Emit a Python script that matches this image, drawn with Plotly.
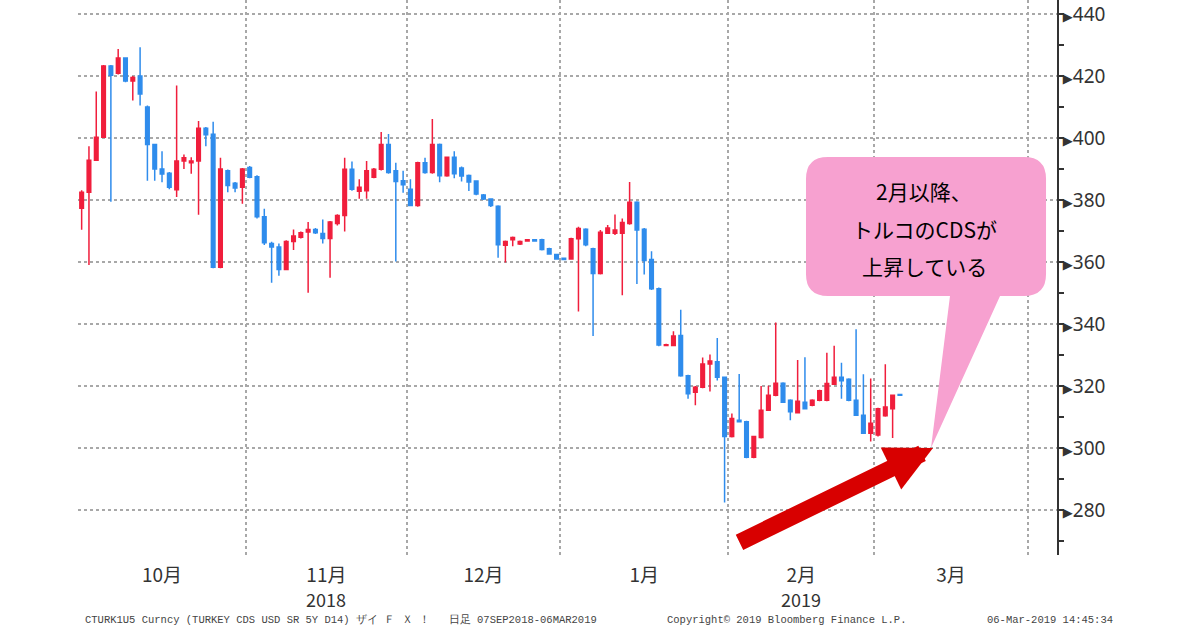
import pandas as pd
import plotly.graph_objects as go

# daily candles, weekdays from 2018-10-01 to 2019-03-06
open_ = [
    377.3, 382.5, 392.8, 400.2, 423.2, 420.9, 425.8, 418.4, 420.0, 410.0,
    397.9, 390.0, 388.6, 383.3, 392.6, 392.0, 392.6, 403.1, 401.2, 358.3,
    389.4, 385.4, 384.1,
    390.5, 387.5, 374.6, 366.0, 364.8, 357.6, 366.6, 368.0, 369.7, 370.5,
    369.2, 367.6, 372.4, 375.0, 389.9, 382.8, 383.0, 387.3, 389.9, 397.9,
    389.4, 386.2,
    383.5, 378.2, 392.0, 388.9, 397.9, 387.8, 393.8, 390.3, 387.9, 386.1,
    381.6, 380.3, 378.0, 365.4, 367.2, 365.8, 366.8, 367.2, 367.2, 364.3,
    362.4,
    361.2, 361.0, 367.5, 370.6, 364.3, 356.3, 369.3, 369.3, 369.3, 372.4,
    379.3, 370.6, 360.8, 351.4, 333.1, 333.1, 336.3, 323.3, 318.0, 319.6,
    327.1, 327.8, 322.8,
    303.7, 309.0, 308.5, 297.0, 303.4, 312.2, 317.0, 320.9, 315.4, 311.4,
    314.8, 313.8, 315.4, 315.4, 320.6, 322.8, 322.2, 315.4, 310.6, 304.8,
    304.2, 310.4, 312.7, 317.3,
]
high = [
    383.1, 397.3, 415.0, 423.5, 423.5, 428.7, 426.0, 420.0, 429.3, 410.5,
    398.0, 395.7, 389.0, 416.9, 394.7, 393.8, 405.5, 403.5, 405.2, 393.6,
    389.8, 385.8, 390.3,
    391.0, 388.0, 377.2, 366.5, 366.0, 367.0, 370.5, 369.8, 372.9, 371.0,
    373.7, 373.2, 375.4, 393.6, 392.4, 386.7, 392.6, 390.3, 401.9, 401.3,
    392.0, 389.4,
    386.7, 392.3, 393.6, 406.1, 398.2, 394.0, 395.7, 390.8, 388.2, 386.4,
    381.9, 380.6, 378.3, 366.9, 368.2, 366.9, 367.3, 367.3, 367.5, 364.6,
    362.7,
    361.3, 367.8, 371.4, 370.9, 364.6, 370.3, 371.9, 375.3, 374.0, 385.8,
    379.6, 371.0, 363.5, 351.8, 333.6, 337.7, 344.6, 323.6, 320.0, 329.2,
    330.2, 335.5, 323.1,
    311.1, 323.9, 308.8, 304.0, 320.0, 320.1, 340.5, 321.2, 315.7, 328.4,
    329.3, 315.7, 318.8, 330.7, 333.0, 327.5, 322.5, 338.3, 323.8, 322.4,
    313.0, 327.0, 317.3, 317.5,
]
low = [
    370.4, 359.0, 392.8, 400.0, 379.4, 420.5, 418.0, 412.1, 410.5, 386.2,
    386.2, 385.7, 383.5, 381.0, 390.0, 388.5, 375.2, 397.3, 358.0, 358.0,
    382.5, 382.5, 378.8,
    387.0, 374.0, 365.5, 353.3, 355.6, 357.3, 363.9, 367.6, 350.1, 369.0,
    366.0, 354.9, 371.8, 369.8, 383.0, 380.4, 380.4, 387.0, 389.5, 388.5,
    360.2, 382.3,
    378.0, 377.8, 388.5, 388.5, 385.7, 387.5, 387.0, 386.0, 382.9, 381.5,
    380.0, 377.7, 361.4, 359.8, 365.1, 365.5, 366.7, 366.6, 363.7, 362.3,
    360.8,
    360.6, 361.0, 344.0, 365.1, 336.1, 356.0, 369.0, 368.7, 349.3, 372.0,
    352.9, 356.0, 351.0, 332.8, 332.8, 332.8, 323.0, 315.9, 313.8, 319.3,
    318.2, 321.8, 282.4,
    303.4, 308.2, 296.7, 296.7, 303.1, 312.0, 316.7, 314.5, 309.0, 311.1,
    312.4, 313.5, 315.1, 315.1, 320.3, 315.9, 315.1, 310.3, 304.5, 302.1,
    303.7, 310.1, 303.2, 316.8,
]
close = [
    382.5, 392.8, 400.2, 423.2, 420.2, 425.8, 418.4, 419.5, 414.2, 397.9,
    390.0, 388.4, 384.1, 392.6, 393.6, 392.6, 403.1, 401.0, 358.3, 390.0,
    384.7, 383.9, 390.0,
    387.3, 374.6, 366.2, 364.8, 357.6, 366.6, 368.4, 369.4, 370.5, 369.4,
    367.6, 372.9, 375.0, 389.9, 383.5, 384.1, 389.4, 389.9, 397.9, 388.9,
    386.0, 384.9,
    378.2, 392.0, 388.9, 397.9, 387.8, 393.8, 388.5, 387.7, 385.8, 381.9,
    380.3, 378.2, 365.6, 366.6, 367.9, 366.6, 367.2, 366.8, 364.0, 362.6,
    361.0,
    360.8, 367.5, 370.8, 365.6, 356.3, 369.6, 371.0, 370.3, 372.7, 379.3,
    370.3, 360.5, 351.4, 333.2, 333.3, 336.1, 323.3, 317.5, 319.6, 327.1,
    328.1, 322.8, 303.7,
    309.5, 308.5, 297.0, 303.7, 312.2, 317.0, 320.9, 314.8, 311.7, 315.1,
    312.7, 315.4, 318.5, 320.8, 322.8, 321.7, 315.4, 310.6, 304.8, 308.0,
    312.7, 313.2, 317.0, 317.0,
]

y_ticks = [280, 300, 320, 340, 360, 380, 400, 420, 440]
month_names = ["10月", "11月", "12月", "1月", "2月", "3月"]
year_labels = {"11月": "2018", "2月": "2019"}

RED = "#f01e3c"
BLUE = "#2f8cec"
GRID = "#a8a8a8"

# Bloomberg style axis: one slot per weekday, shown through the first days of April
axis_days = pd.bdate_range("2018-10-01", "2019-04-04")
x_idx = list(range(len(close)))
periods = axis_days.to_period("M")
month_first, month_last = {}, {}
for i, p in enumerate(periods):
    month_first.setdefault(p, i)
    month_last[p] = i
month_keys = list(month_first)
boundaries = [month_first[p] - 0.5 for p in month_keys[1:]]
label_pos = [(month_first[p] + month_last[p]) / 2 for p in month_keys[:len(month_names)]]

fig = go.Figure()
fig.add_trace(go.Candlestick(
    x=x_idx, open=open_, high=high, low=low, close=close,
    increasing=dict(line=dict(color=RED, width=1.5), fillcolor=RED),
    decreasing=dict(line=dict(color=BLUE, width=1.5), fillcolor=BLUE),
    whiskerwidth=0, showlegend=False, hoverinfo="skip",
))

# plot area in pixels, used for the call-out decorations
L, R, T, B = 78, 1057, 0, 555


def px(x):
    return (x - L) / (R - L)


def py(y):
    return (B - y) / (B - T)


def pt(x, y):
    return f"{px(x):.4f},{py(y):.4f}"


bl, br, bt, bb, r = 806, 1046, 157, 296, 22
bubble = (
    f"M{pt(bl + r, bt)} L{pt(br - r, bt)} Q{pt(br, bt)} {pt(br, bt + r)} "
    f"L{pt(br, bb - r)} Q{pt(br, bb)} {pt(br - r, bb)} "
    f"L{pt(1000, bb)} L{pt(931, 448)} L{pt(950, bb)} "
    f"L{pt(bl + r, bb)} Q{pt(bl, bb)} {pt(bl, bb - r)} "
    f"L{pt(bl, bt + r)} Q{pt(bl, bt)} {pt(bl + r, bt)} Z"
)
fig.add_shape(type="path", path=bubble, xref="paper", yref="paper",
              fillcolor="#f7a1d0", line=dict(width=0), layer="above")

for txt, yy in [("2月以降、", 191), ("トルコのCDSが", 229), ("上昇している", 266)]:
    fig.add_annotation(text=txt, xref="paper", yref="paper", x=px(924), y=py(yy),
                       xanchor="center", yanchor="middle", showarrow=False,
                       font=dict(size=21, color="#000", family="Noto Sans CJK JP"))

fig.add_annotation(x=px(933), y=py(448), xref="paper", yref="paper",
                   ax=-195, ay=95, text="", showarrow=True, arrowhead=2,
                   arrowsize=0.55, arrowwidth=17, arrowcolor="#d80000", standoff=0)

for name, pos in zip(month_names, label_pos):
    if name in year_labels:
        fig.add_annotation(text=year_labels[name], x=pos, xref="x", y=py(599), yref="paper",
                           xanchor="center", yanchor="middle", showarrow=False,
                           font=dict(size=18, color="#333", family="Noto Sans CJK JP"))

foot = dict(size=10.5, color="#444", family="Liberation Mono")
footer = [
    ("CTURK1U5 Curncy (TURKEY CDS USD SR 5Y D14) ザイ Ｆ Ｘ ！   日足 07SEP2018-06MAR2019", 83),
    ("Copyright© 2019 Bloomberg Finance L.P.", 665),
    ("06-Mar-2019 14:45:34", 985),
]
for txt, x0 in footer:
    fig.add_annotation(text=txt, x=px(x0), y=py(620), xref="paper", yref="paper",
                       xanchor="left", yanchor="middle", showarrow=False, font=foot)

fig.update_layout(
    width=1200, height=630,
    margin=dict(l=L, r=1200 - R, t=T, b=630 - B),
    paper_bgcolor="white", plot_bgcolor="white",
    font=dict(family="Noto Sans CJK JP", color="#333"),
    xaxis=dict(
        range=[-0.5, len(axis_days) - 0.5], rangeslider=dict(visible=False),
        tickmode="array", tickvals=label_pos, ticktext=month_names,
        showgrid=False, zeroline=False, showline=False, ticks="",
        tickfont=dict(size=19, color="#333"), ticklabelstandoff=7,
        minor=dict(tickmode="array", tickvals=boundaries, showgrid=True,
                   gridcolor=GRID, griddash="dot", gridwidth=1.5, ticks=""),
    ),
    yaxis=dict(
        side="right", range=[265.5, 444.5],
        tickmode="array", tickvals=y_ticks,
        ticktext=[f"<span style='font-size:13px'>▶</span>{v}" for v in y_ticks],
        showgrid=True, gridcolor=GRID, griddash="dot", gridwidth=1.5,
        showline=True, linecolor="#333", linewidth=2, zeroline=False, ticks="",
        tickfont=dict(size=19, color="#333", family="Noto Sans, DejaVu Sans"),
        ticklabelstandoff=0,
        minor=dict(dtick=10, tick0=0, ticks="outside", ticklen=5, tickwidth=1.5,
                   tickcolor="#333", showgrid=False),
    ),
)

# the page body has a default 8px margin; drop it so the figure sits at the corner
fig.write_html("out.html", config={"displayModeBar": False},
               post_script="document.body.style.margin='0';")
